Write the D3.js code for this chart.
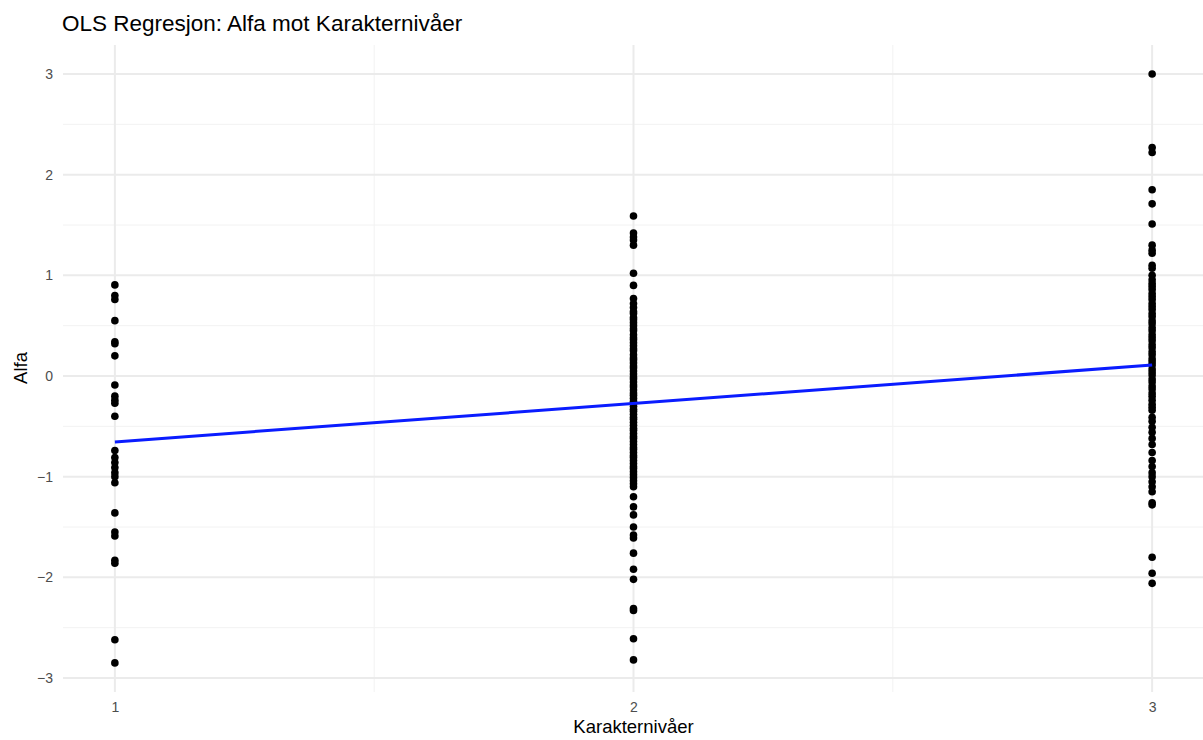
<!DOCTYPE html>
<html>
<head>
<meta charset="utf-8">
<script src="https://cdn.jsdelivr.net/npm/d3@7"></script>
<style>
  body { margin: 0; background: #fff; }
  text { font-family: "Liberation Sans", Arial, sans-serif; }
</style>
</head>
<body>
<div id="chart"></div>
<script>
const WIDTH = 1203
const HEIGHT = 740

// data
const nivaa = [1, 2, 3]
const alfa1 = [0.905, 0.80, 0.76, 0.55, 0.34, 0.32, 0.20, -0.09, -0.20, -0.24, -0.27, -0.40,
    -0.74, -0.81, -0.86, -0.91, -0.96, -1.00, -1.06, -1.36, -1.55, -1.59, -1.83, -1.86, -2.62, -2.85]
const alfa2 = [1.59, 1.42, 1.38, 1.35, 1.30, 1.02, 0.90, 0.77, 0.72, 0.68, 0.64,
    0.62, 0.58, 0.56, 0.53, 0.50, 0.47, 0.45, 0.41, 0.38, 0.36, 0.33, 0.30, 0.27, 0.25, 0.21,
    0.18, 0.16, 0.13, 0.10, 0.08, 0.05, 0.02, -0.01, -0.03, -0.06, -0.09, -0.11, -0.14, -0.17,
    -0.19, -0.22, -0.25, -0.27, -0.30, -0.33, -0.35, -0.38, -0.41, -0.43, -0.46, -0.49, -0.52,
    -0.54, -0.57, -0.60, -0.62, -0.65, -0.68, -0.71, -0.73, -0.76, -0.79, -0.81, -0.84, -0.87,
    -0.90, -0.92, -0.95, -0.98, -1.01, -1.04, -1.07, -1.10,
    -1.20, -1.30, -1.38, -1.50, -1.58, -1.61, -1.76, -1.92, -2.02, -2.31, -2.33, -2.61, -2.82]
const alfa3 = [3.0, 2.27, 2.22, 1.85, 1.71, 1.51, 1.30, 1.25, 1.22, 1.10, 1.07, 1.00, 0.955,
    0.92, 0.89, 0.86, 0.82, 0.79, 0.76, 0.72, 0.69, 0.66, 0.62, 0.59, 0.55, 0.52, 0.48, 0.45,
    0.41, 0.38, 0.35, 0.31, 0.28, 0.24, 0.21, 0.17, 0.14, 0.11, 0.07, 0.04, 0.01, -0.03, -0.06,
    -0.10, -0.13, -0.17, -0.20, -0.24, -0.28, -0.31, -0.34, -0.41, -0.45, -0.51, -0.56, -0.62,
    -0.68, -0.76, -0.84, -0.90, -0.96, -1.00, -1.05, -1.10, -1.15, -1.26, -1.28, -1.80, -1.96, -2.06]
// fitted OLS line (intercept, slope) as drawn
const fitIntercept = -1.037
const fitSlope = 0.382

const xTicks = [1, 2, 3]
const yTicks = [-3, -2, -1, 0, 1, 2, 3]

const points = []
;[alfa1, alfa2, alfa3].forEach((arr, i) => {
    arr.forEach(v => points.push({ x: nivaa[i], y: v }))
})

// panel
const panelLeft = 63, panelRight = 1204, panelTop = 45, panelBottom = 692

const x = d3.scaleLinear().domain([0.9, 3.1]).range([panelLeft, panelRight])
const y = d3.scaleLinear().domain([-3, 3]).range([678, 74])

const svg = d3.select("#chart")
    .append("svg")
    .attr("width", WIDTH)
    .attr("height", HEIGHT)

const grid = svg.append("g")

// minor grid
grid.selectAll(".minorx")
    .data([1.5, 2.5])
    .enter()
    .append("line")
    .attr("x1", d => x(d)).attr("x2", d => x(d))
    .attr("y1", panelTop).attr("y2", panelBottom)
    .attr("stroke", "#f2f2f2").attr("stroke-width", 1)

grid.selectAll(".minory")
    .data(d3.range(-2.5, 3, 1))
    .enter()
    .append("line")
    .attr("x1", panelLeft).attr("x2", panelRight)
    .attr("y1", d => y(d)).attr("y2", d => y(d))
    .attr("stroke", "#f2f2f2").attr("stroke-width", 1)

// major grid
grid.selectAll(".majorx")
    .data(xTicks)
    .enter()
    .append("line")
    .attr("x1", d => x(d)).attr("x2", d => x(d))
    .attr("y1", panelTop).attr("y2", panelBottom)
    .attr("stroke", "#ebebeb").attr("stroke-width", 2)

grid.selectAll(".majory")
    .data(yTicks)
    .enter()
    .append("line")
    .attr("x1", panelLeft).attr("x2", panelRight)
    .attr("y1", d => y(d)).attr("y2", d => y(d))
    .attr("stroke", "#ebebeb").attr("stroke-width", 2)

// points
svg.append("g")
    .selectAll("circle")
    .data(points)
    .enter()
    .append("circle")
    .attr("cx", d => x(d.x))
    .attr("cy", d => y(d.y))
    .attr("r", 3.8)
    .attr("fill", "#000")

// regression line
const line = d3.line()
    .x(d => x(d))
    .y(d => y(fitIntercept + fitSlope * d))

svg.append("path")
    .datum([1, 3])
    .attr("d", line)
    .attr("fill", "none")
    .attr("stroke", "#0a1cff")
    .attr("stroke-width", 3)

// axes (labels only, like theme_minimal)
const xAxis = svg.append("g")
    .attr("transform", `translate(0,${panelBottom})`)
    .call(d3.axisBottom(x).tickValues(xTicks).tickSize(0).tickPadding(10).tickFormat(d3.format("d")))
xAxis.select(".domain").remove()
xAxis.selectAll("text").attr("font-size", 14).attr("fill", "#4d4d4d")
    .attr("font-family", "Liberation Sans, Arial, sans-serif")

const yAxis = svg.append("g")
    .attr("transform", `translate(${panelLeft},0)`)
    .call(d3.axisLeft(y).tickValues(yTicks).tickSize(0).tickPadding(10).tickFormat(d => d < 0 ? "\u2212" + Math.abs(d) : d))
yAxis.select(".domain").remove()
yAxis.selectAll("text").attr("font-size", 14).attr("fill", "#4d4d4d")
    .attr("font-family", "Liberation Sans, Arial, sans-serif")

// titles
svg.append("text")
    .attr("x", 62)
    .attr("y", 31)
    .attr("font-size", 22.5)
    .attr("fill", "#000")
    .text("OLS Regresjon: Alfa mot Karakternivåer")

svg.append("text")
    .attr("x", x(2))
    .attr("y", 733)
    .attr("text-anchor", "middle")
    .attr("font-size", 18.5)
    .attr("fill", "#000")
    .text("Karakternivåer")

svg.append("text")
    .attr("transform", `translate(27,${y(0) - 8}) rotate(-90)`)
    .attr("text-anchor", "middle")
    .attr("font-size", 18.5)
    .attr("fill", "#000")
    .text("Alfa")
</script>
</body>
</html>
